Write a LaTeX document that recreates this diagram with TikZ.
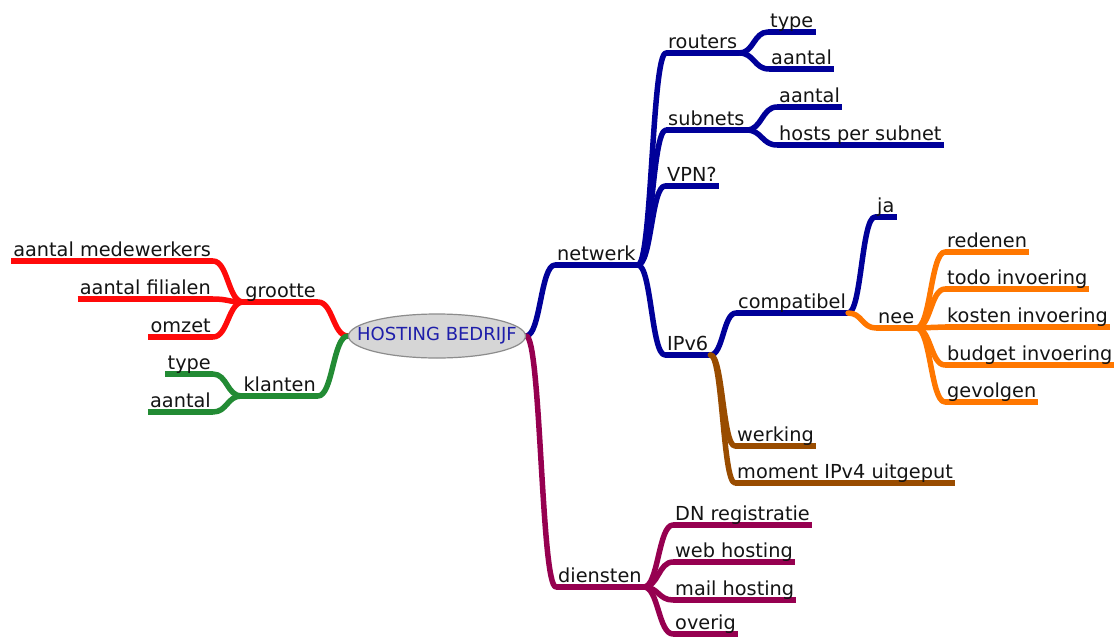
\documentclass[tikz,border=0pt]{standalone}
\usepackage{fontspec}
\newfontfamily\dv{DejaVu Sans}
\usetikzlibrary{calc,shapes.geometric}
\definecolor{cred}{RGB}{255,10,10}
\definecolor{cgreen}{RGB}{34,139,52}
\definecolor{cblue}{RGB}{0,0,153}
\definecolor{cmaroon}{RGB}{150,0,80}
\definecolor{corange}{RGB}{255,119,0}
\definecolor{cbrown}{RGB}{153,76,0}
\definecolor{ctext}{RGB}{20,20,20}
\definecolor{roottext}{RGB}{30,30,170}
\definecolor{rootfill}{RGB}{214,214,214}
\definecolor{rootdraw}{RGB}{140,140,140}
\pgfdeclarelayer{bg}
\pgfsetlayers{bg,main}
\tikzset{
  tn/.style={font=\dv\fontsize{19.3}{22}\selectfont, text=ctext, inner xsep=2pt, inner ysep=4pt, text depth=0pt},
  rn/.style={tn, anchor=south west},
  ln/.style={tn, anchor=south east},
  br/.style={line width=5.5pt, line cap=round, line join=round, draw=#1},
  ul/.style={line width=5.5pt, line cap=butt, draw=#1},
  hc/.style={to path={let \p1=(\tikztostart), \p2=(\tikztotarget) in
     .. controls (\x1/2+\x2/2,\y1) and (\x1/2+\x2/2,\y2) .. (\tikztotarget)}},
}
\begin{document}
\begin{tikzpicture}[x=1pt,y=-1pt]
\useasboundingbox (0,0) rectangle (1116,637);
% root
\node[ellipse, minimum width=177pt, minimum height=44pt, inner sep=0pt, fill=rootfill, draw=rootdraw, line width=1.2pt, text=roottext, font=\dv\fontsize{18}{21}\selectfont] (root) at (437,336) {\makebox[0pt]{HOSTING BEDRIJF}};
% right side
\node[rn] (netwerk) at (555,265) {netwerk};
\node[rn] (routers) at (666,53) {routers};
\node[rn] (rtype) at (768,32) {type};
\node[rn] (raantal) at (769,69) {aantal};
\node[rn] (subnets) at (666,130) {subnets};
\node[rn] (saantal) at (777,107) {aantal};
\node[rn] (hosts) at (777,145) {hosts per subnet};
\node[rn] (vpn) at (665,186) {VPN?};
\node[rn] (ipv6) at (665,355) {IPv6};
\node[rn] (compat) at (736,313) {compatibel};
\node[rn] (ja) at (875,217) {ja};
\node[rn] (nee) at (876,328) {nee};
\node[rn] (reden) at (945,252) {redenen};
\node[rn] (todo) at (945,289) {todo invoering};
\node[rn] (kosten) at (945,327) {kosten invoering};
\node[rn] (budget) at (945,365) {budget invoering};
\node[rn] (gevolgen) at (945,402) {gevolgen};
\node[rn] (werking) at (735,446) {werking};
\node[rn] (moment) at (735,483) {moment IPv4 uitgeput};
\node[rn] (diensten) at (556,587) {diensten};
\node[rn] (dn) at (673,525) {DN registratie};
\node[rn] (web) at (673,562) {web hosting};
\node[rn] (mail) at (673,600) {mail hosting};
\node[rn] (overig) at (673,634) {overig};
% left side
\node[ln] (grootte) at (318,302) {grootte};
\node[ln] (medew) at (213,261) {aantal medewerkers};
\node[ln] (filialen) at (213,299) {aantal filialen};
\node[ln] (omzet) at (213,337) {omzet};
\node[ln] (klanten) at (318,396) {klanten};
\node[ln] (ktype) at (213,374) {type};
\node[ln] (kaantal) at (213,412) {aantal};
\begin{pgfonlayer}{bg}
\fill[white] (0,0) rectangle (1116,637);
% underlines
\foreach \n/\c in {netwerk/cblue, routers/cblue, rtype/cblue, raantal/cblue, subnets/cblue, saantal/cblue, hosts/cblue, vpn/cblue, ipv6/cblue, compat/cblue, ja/cblue, nee/corange, reden/corange, todo/corange, kosten/corange, budget/corange, gevolgen/corange, werking/cbrown, moment/cbrown, diensten/cmaroon, dn/cmaroon, web/cmaroon, mail/cmaroon, overig/cmaroon, grootte/cred, medew/cred, filialen/cred, omzet/cred, klanten/cgreen, ktype/cgreen, kaantal/cgreen}
  \draw[ul=\c] (\n.south west) -- (\n.south east);
% right connectors
\draw[br=cblue] (root.east) to[hc] (netwerk.south west);
\draw[br=cmaroon] (root.east) to[hc] (diensten.south west);
\foreach \c in {routers, subnets, vpn, ipv6}
  \draw[br=cblue] (netwerk.south east) to[hc] (\c.south west);
\foreach \c in {rtype, raantal}
  \draw[br=cblue] (routers.south east) to[hc] (\c.south west);
\foreach \c in {saantal, hosts}
  \draw[br=cblue] (subnets.south east) to[hc] (\c.south west);
\draw[br=cblue] (ipv6.south east) to[hc] (compat.south west);
\foreach \c in {werking, moment}
  \draw[br=cbrown] (ipv6.south east) to[hc] (\c.south west);
\draw[br=cblue] (compat.south east) to[hc] (ja.south west);
\draw[br=corange] (compat.south east) to[hc] (nee.south west);
\foreach \c in {reden, todo, kosten, budget, gevolgen}
  \draw[br=corange] (nee.south east) to[hc] (\c.south west);
\foreach \c in {dn, web, mail, overig}
  \draw[br=cmaroon] (diensten.south east) to[hc] (\c.south west);
% left connectors
\draw[br=cred] (root.west) to[hc] (grootte.south east);
\draw[br=cgreen] (root.west) to[hc] (klanten.south east);
\foreach \c in {medew, filialen, omzet}
  \draw[br=cred] (grootte.south west) to[hc] (\c.south east);
\foreach \c in {ktype, kaantal}
  \draw[br=cgreen] (klanten.south west) to[hc] (\c.south east);
\end{pgfonlayer}
\end{tikzpicture}
\end{document}
